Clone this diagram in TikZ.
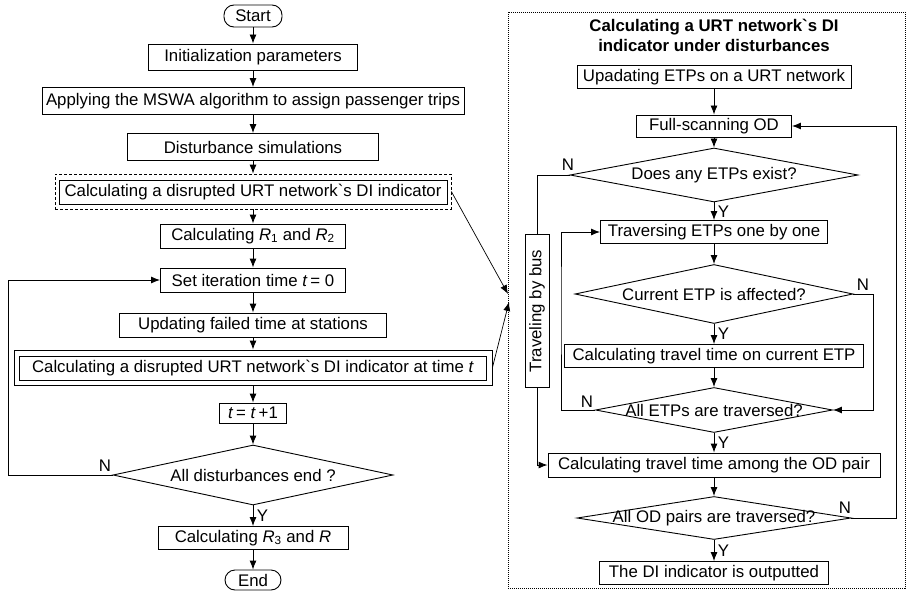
\documentclass[tikz,border=0pt]{standalone}
\usepackage{fontspec}
\setmainfont{Liberation Sans}
\usetikzlibrary{shapes.geometric,arrows.meta}
\newcommand{\bq}{\textasciigrave}
\newcommand{\intest}[1]{\makebox[0pt]{#1}}

\begin{document}
\begin{tikzpicture}[x=1pt,y=-1pt,
  font=\fontsize{16.8}{20}\selectfont,
  line width=0.9pt, >={Latex[length=9pt,width=7pt]},
  box/.style={draw, inner sep=0pt, minimum height=24pt},
  term/.style={draw, rounded corners=10pt, inner sep=0pt},
  test/.style={draw, shape=diamond, inner sep=0pt},
  lbl/.style={inner sep=0pt}]
\useasboundingbox (0,0) rectangle (907,591);

% main flow
\node (Start) at (253,16) [term, minimum width=58pt, minimum height=22pt]{Start};
\node (Init) at (253,57) [box, minimum width=209pt, minimum height=26pt]{Initialization parameters};
\node (MSWA) at (253,101) [box, minimum width=422pt, minimum height=27pt]{Applying the MSWA algorithm to assign passenger trips};
\node (Dist) at (253,147) [box, minimum width=251pt, minimum height=27pt]{Disturbance simulations};

\node (DI-box) at (253,191.5) [draw, dash pattern=on 3pt off 2pt, line width=0.7pt, minimum width=396pt, minimum height=35pt]{};
\node (DI) at (253,192) [box, minimum width=388pt]{Calculating a disrupted URT network\bq s DI indicator};

\node (R12) at (253,236) [box, minimum width=185pt]{Calculating \textit{R}\textsubscript{1} and \textit{R}\textsubscript{2}};
\node (T0) at (253,280) [box, minimum width=185pt]{Set iteration time \textit{t}\,= 0};
\node (Fail) at (253,325) [box, minimum width=267pt]{Updating failed time at stations};

\node (DIt-box) at (253,367.5) [draw, minimum width=478pt, minimum height=35pt]{};
\node (DIt) at (253,368) [box, minimum width=467pt]{Calculating a disrupted URT network\bq s DI indicator at time \textit{t}};

\node (Tinc) at (253,413) [box, minimum width=67pt, minimum height=20pt]{\textit{t}\,= \textit{t}\,+1};
\node (Done) at (253,475) [test, minimum width=280pt, minimum height=60pt]{\intest{All disturbances end ?}};
\node (R3) at (253,538) [box, minimum width=190pt, minimum height=23pt]{Calculating \textit{R}\textsubscript{3} and \textit{R}};
\node (End) at (253,580) [term, minimum width=56pt, minimum height=20pt]{End};

\coordinate (Loop) at (8,280);

\draw [->] (Start) -- (Init);
\draw [->] (Init) -- (MSWA);
\draw [->] (MSWA) -- (Dist);
\draw [->] (Dist) -- (DI-box);
\draw [->] (DI-box) -- (R12);
\draw [->] (R12) -- (T0);
\draw [->] (T0) -- (Fail);
\draw [->] (Fail) -- (DIt-box);
\draw [->] (DIt-box) -- (Tinc);
\draw [->] (Tinc) -- (Done);
\draw [->] (Done) -- node (Y-1) [right]{Y} (R3);
\draw [->] (R3) -- (End);
\draw [->] (Done.west) -| (Loop) |- (T0.west);
\node (N-1) at (105,466) [lbl]{N};

% sub procedure
\node (Sub) at (706.5,300) [draw, dash pattern=on 1pt off 1pt, line width=0.6pt, minimum width=397pt, minimum height=576pt]{};
\node (Title) at (714,35) [align=center, font=\fontsize{16.8}{20}\selectfont\bfseries]{Calculating a URT network\bq s DI\\indicator under disturbances};

\coordinate (Hit-1) at (508,294);
\coordinate (Hit-2) at (509,302);
\draw [->, line width=0.7pt] (DI-box.east) -- (Hit-1);
\draw [->, line width=0.7pt] (DIt-box.east) -- (Hit-2);

\node (Upd) at (714,77) [box, minimum width=274pt, minimum height=23pt]{Upadating ETPs on a URT network};
\node (Scan) at (714,126) [box, minimum width=155pt, minimum height=22pt]{Full-scanning OD};
\node (Any) at (714,175) [test, minimum width=288pt, minimum height=54pt]{\intest{Does any ETPs exist?}};
\node (Trav) at (714,232) [box, minimum width=227pt, minimum height=23pt]{Traversing ETPs one by one};
\node (Cur) at (714,294) [test, minimum width=278pt, minimum height=59pt]{\intest{Current ETP is affected?}};
\node (OnCur) at (714,356) [box, minimum width=299pt, minimum height=23pt]{Calculating travel time on current ETP};
\node (AllETP) at (714,410) [test, minimum width=237pt, minimum height=45pt]{\intest{All ETPs are traversed?}};
\node (Among) at (714,465) [box, minimum width=332pt]{Calculating travel time among the OD pair};
\node (AllOD) at (714,518) [test, minimum width=274pt, minimum height=43pt]{\intest{All OD pairs are traversed?}};
\node (Out) at (714,573) [box, minimum width=229pt, minimum height=23pt]{The DI indicator is outputted};

\node (Bus) at (537,311) [box, rotate=90, minimum width=153pt]{Traveling by bus};

\coordinate (Back) at (561,300);
\coordinate (Skip) at (873,350);
\coordinate (Again) at (896,300);

\draw [->] (Upd) -- (Scan);
\draw [->] (Scan) -- (Any);
\draw [->] (Any) -- node (Y-2) [right]{Y} (Trav);
\draw [->] (Trav) -- (Cur);
\draw [->] (Cur) -- node (Y-3) [right]{Y} (OnCur);
\draw [->] (OnCur) -- (AllETP);
\draw [->] (AllETP) -- node (Y-4) [right]{Y} (Among);
\draw [->] (Among) -- (AllOD);
\draw [->] (AllOD) -- node (Y-5) [right]{Y} (Out);

\draw (Any.west) -| (Bus.east);
\draw [->] (Bus.west) |- (Among.west);
\draw [->] (AllETP.west) -| (Back) |- (Trav.west);
\draw [->] (Cur.east) -| (Skip) |- (AllETP.east);
\draw [->] (AllOD.east) -| (Again) |- (Scan.east);

\node (N-2) at (568,165) [lbl]{N};
\node (N-3) at (587,402) [lbl]{N};
\node (N-4) at (863,285) [lbl]{N};
\node (N-5) at (845,508) [lbl]{N};

\end{tikzpicture}
\end{document}
